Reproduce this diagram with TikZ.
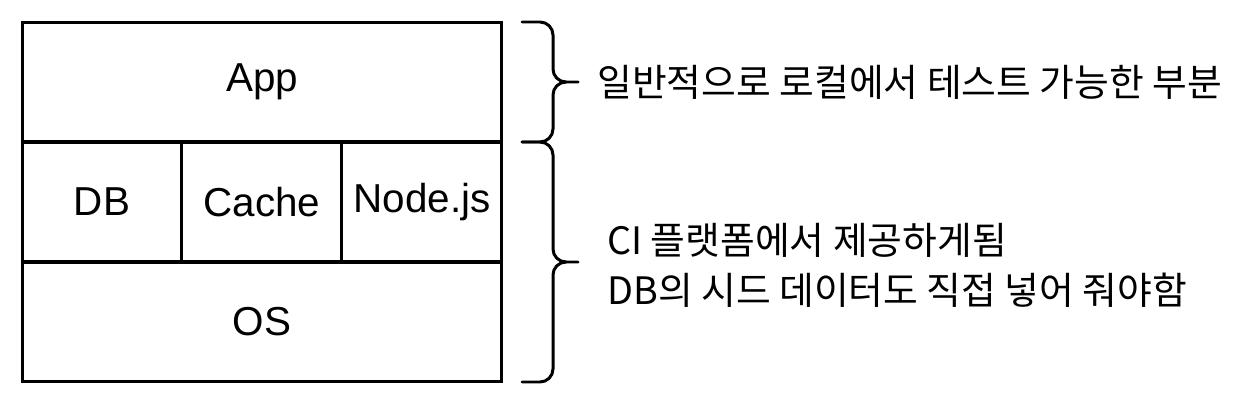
\documentclass[tikz,border=0pt]{standalone}
\usepackage{fontspec}
\setmainfont{Liberation Sans}
\newfontfamily\krfont{Noto Sans CJK KR}
\usetikzlibrary{positioning}
\begin{document}
\begin{tikzpicture}[
  x=0.02cm, y=-0.02cm,
  layer/.style={draw, line width=1.7pt, inner sep=0pt, outer sep=0pt, font=\fontsize{23}{27}\selectfont},
  wide/.style={layer, minimum width=9.6cm, minimum height=2.4cm},
  cell/.style={layer, minimum width=3.2cm, minimum height=2.4cm},
  note/.style={anchor=west, align=left, inner sep=0pt, font=\krfont\fontsize{21.5}{28.5}\selectfont},
  bracepath/.style={line width=1.7pt, line cap=round, line join=round}
]
\useasboundingbox (0,0) rectangle (1254,402);

\node [wide] (app) at (262,82) {App};
\node [cell] (db) at (102,202) {DB};
\node [cell, right=0pt of db] (cache) {Cache};
\node [cell, right=0pt of cache] (nodejs) {Node.js};
\node [wide] (os) at (262,322) {OS};

% upper brace: App
\draw [bracepath] (522,22) -- (540,22) to[out=0,in=90] (553,35) -- (553,69)
  to[out=-90,in=180] (566,82) -- (578,82);
\draw [bracepath] (566,82) to[out=180,in=90] (553,95) -- (553,129)
  to[out=-90,in=0] (540,142) -- (522,142);

% lower brace: DB, Cache, Node.js, OS
\draw [bracepath] (522,142) -- (540,142) to[out=0,in=90] (553,155) -- (553,249)
  to[out=-90,in=180] (566,262) -- (578,262);
\draw [bracepath] (566,262) to[out=180,in=90] (553,275) -- (553,369)
  to[out=-90,in=0] (540,382) -- (522,382);

\node [note] (localtext) at (597,82) {일반적으로 로컬에서 테스트 가능한 부분};
\node [note] (citext) at (607,265) {CI 플랫폼에서 제공하게됨\\DB의 시드 데이터도 직접 넣어 줘야함};
\end{tikzpicture}
\end{document}
